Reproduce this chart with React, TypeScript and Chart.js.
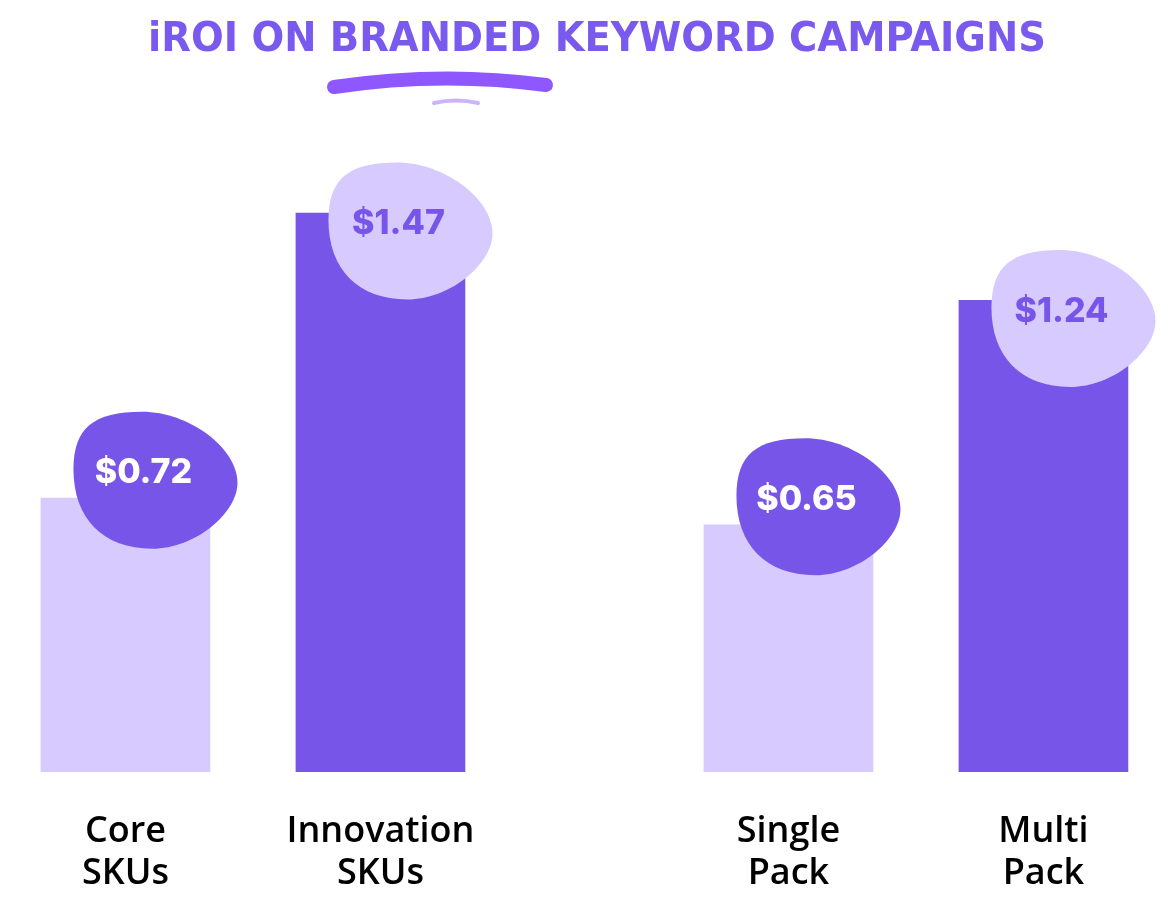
import { useEffect, useRef } from "react";
import { Chart, registerables } from "chart.js";

Chart.register(...registerables);

// ---- data ----
const categories: string[][] = [
  ["Core", "SKUs"],
  ["Innovation", "SKUs"],
  ["Single", "Pack"],
  ["Multi", "Pack"],
];
const values = [0.72, 1.47, 0.65, 1.24];
const valueLabels = ["$0.72", "$1.47", "$0.65", "$1.24"];
const xPositions = [0, 1, 2.6, 3.6];
const title = "iROI ON BRANDED KEYWORD CAMPAIGNS";

// ---- styles ----
const DARK = "#7655E8";
const LIGHT = "#D6CAFF";
const barColors = [LIGHT, DARK, LIGHT, DARK];
const blobColors = [DARK, LIGHT, DARK, LIGHT];
const labelColors = ["#FFFFFF", DARK, "#FFFFFF", DARK];

function drawBlob(ctx: CanvasRenderingContext2D, cx: number, cy: number, w: number, h: number) {
  const X = (u: number) => cx + (u - 0.5) * w;
  const Y = (v: number) => cy + (v - 0.5) * h;
  const T = [0.42, 0];
  const R = [1, 0.52];
  const B = [0.48, 1];
  const L = [0, 0.42];
  ctx.beginPath();
  ctx.moveTo(X(T[0]), Y(T[1]));
  ctx.bezierCurveTo(X(T[0] + 0.28), Y(T[1]), X(R[0]), Y(R[1] - 0.26), X(R[0]), Y(R[1]));
  ctx.bezierCurveTo(X(R[0]), Y(R[1] + 0.22), X(B[0] + 0.26), Y(B[1]), X(B[0]), Y(B[1]));
  ctx.bezierCurveTo(X(B[0] - 0.3), Y(B[1]), X(L[0]), Y(L[1] + 0.36), X(L[0]), Y(L[1]));
  ctx.bezierCurveTo(X(L[0]), Y(L[1] - 0.3), X(T[0] - 0.3), Y(T[1]), X(T[0]), Y(T[1]));
  ctx.closePath();
  ctx.fill();
}

const decorPlugin = {
  id: "decor",
  afterDatasetsDraw(chart: any) {
    const ctx: CanvasRenderingContext2D = chart.ctx;
    const meta = chart.getDatasetMeta(0);
    meta.data.forEach((bar: any, i: number) => {
      const dark = blobColors[i] === DARK;
      const cx = bar.x + 30;
      const cy = bar.y + (dark ? -18 : 18);
      ctx.save();
      ctx.fillStyle = blobColors[i];
      drawBlob(ctx, cx, cy, 164, 137);
      ctx.fillStyle = labelColors[i];
      ctx.font = "800 34px Inter";
      ctx.textAlign = "center";
      ctx.textBaseline = "middle";
      ctx.fillText(valueLabels[i], cx - 12, cy - 7);
      ctx.restore();
    });
  },
  afterDraw(chart: any) {
    const ctx: CanvasRenderingContext2D = chart.ctx;
    ctx.save();
    ctx.font = "bold 40px 'DejaVu Sans'";
    const w = ctx.measureText(title).width;
    ctx.translate(597, 51);
    ctx.scale(898 / w, 1);
    ctx.fillStyle = "#7A5AEE";
    ctx.textAlign = "center";
    ctx.textBaseline = "alphabetic";
    ctx.fillText(title, 0, 0);
    ctx.restore();

    ctx.save();
    ctx.strokeStyle = "#8F57FF";
    ctx.lineCap = "round";
    ctx.lineWidth = 14;
    ctx.beginPath();
    ctx.moveTo(334, 87);
    ctx.quadraticCurveTo(440, 71, 546, 85);
    ctx.stroke();
    ctx.globalAlpha = 0.45;
    ctx.lineWidth = 4;
    ctx.beginPath();
    ctx.moveTo(434, 103);
    ctx.quadraticCurveTo(456, 98, 478, 103);
    ctx.stroke();
    ctx.restore();
  },
};

export default function App() {
  const ref = useRef<HTMLCanvasElement | null>(null);
  useEffect(() => {
    if (!ref.current) return;
    const chart = new Chart(ref.current, {
      type: "bar",
      data: {
        datasets: [
          {
            data: xPositions.map((x, i) => ({ x, y: values[i] })) as any,
            backgroundColor: barColors,
            borderWidth: 0,
            barThickness: 169,
          },
        ],
      },
      options: {
        animation: false,
        responsive: false,
        devicePixelRatio: 1,
        layout: { padding: 0 },
        plugins: { legend: { display: false }, tooltip: { enabled: false }, title: { display: false } },
        scales: {
          x: {
            type: "linear",
            min: -0.492,
            max: 4.112,
            offset: false,
            grid: { display: false, offset: false },
            border: { display: false },
            afterBuildTicks: (axis: any) => {
              axis.ticks = xPositions.map((v) => ({ value: v }));
            },
            afterFit: (axis: any) => {
              axis.height = 144;
            },
            ticks: {
              autoSkip: false,
              maxRotation: 0,
              padding: 31,
              color: "#000000",
              font: { family: "'Open Sans'", size: 36, weight: 600, lineHeight: 42 / 36 },
              callback: (_v: any, idx: number) => categories[idx],
            },
          },
          y: { display: false, min: 0, max: 2.03 },
        },
      },
      plugins: [decorPlugin],
    } as any);
    return () => chart.destroy();
  }, []);
  return (
    <div style={{ position: "absolute", left: 0, top: 0, width: 1174, height: 916, background: "#fff" }}>
      <canvas ref={ref} width={1174} height={916} style={{ display: "block" }} />
    </div>
  );
}
